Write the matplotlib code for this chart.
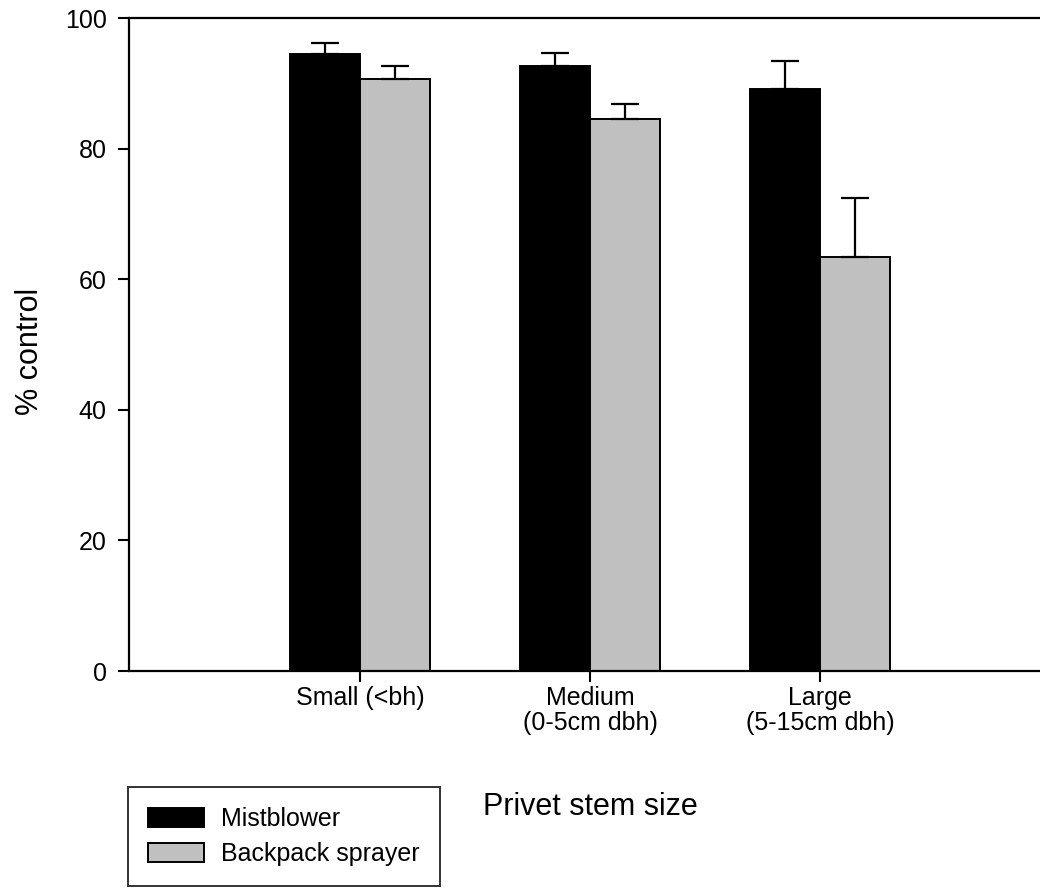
import numpy as np
import matplotlib.pyplot as plt

plt.rcParams['font.family'] = ['Liberation Sans', 'DejaVu Sans']

categories = ['Small (<bh)', 'Medium\n(0-5cm dbh)', 'Large\n(5-15cm dbh)']
mistblower = [94.5, 92.6, 89.1]
mistblower_se = [1.6, 2.1, 4.3]
backpack = [90.7, 84.5, 63.4]
backpack_se = [1.9, 2.3, 9.1]

fig = plt.figure(figsize=(10.4, 8.88), dpi=100)
ax = fig.add_axes([129 / 1040, 1 - 671 / 888, 1 - 129 / 1040, 653 / 888])

x = np.arange(len(categories))
w = 0.304
err_kw = dict(elinewidth=1.6, capsize=10, capthick=1.6, ecolor='black')
ax.bar(x - w / 2, mistblower, w, color='black', edgecolor='black', linewidth=1.4,
       yerr=[np.zeros(3), mistblower_se], error_kw=err_kw, label='Mistblower', zorder=2)
ax.bar(x + w / 2, backpack, w, color='#c0c0c0', edgecolor='black', linewidth=1.4,
       yerr=[np.zeros(3), backpack_se], error_kw=err_kw, label='Backpack sprayer', zorder=2)

ax.set_xlim(-1.005, 2.957)
ax.set_ylim(0, 100)
ax.set_yticks([0, 20, 40, 60, 80, 100])
ax.set_xticks(x)
ax.set_xticklabels(categories, fontsize=18, linespacing=1.05)
ax.tick_params(axis='y', labelsize=18, length=8, width=1.5, direction='out', pad=8)
ax.tick_params(axis='x', length=8, width=1.5, direction='out', pad=3)
ax.spines['right'].set_visible(False)
for s in ['left', 'top', 'bottom']:
    ax.spines[s].set_linewidth(1.6)

ax.set_ylabel('% control', fontsize=22)
ax.yaxis.set_label_coords(-0.092, 0.49)
ax.set_xlabel('Privet stem size', fontsize=22, va='top')
ax.xaxis.set_label_coords(0.506, -0.185)

leg = fig.legend(loc='upper left', bbox_to_anchor=(128 / 1040, 1 - 787 / 888),
                 fontsize=18, frameon=True, fancybox=False, edgecolor='black',
                 handlelength=2.25, handleheight=0.8, handletextpad=0.68,
                 labelspacing=0.45, borderpad=0.8, borderaxespad=0)
leg.get_frame().set_linewidth(1.4)

fig.savefig('out.png', dpi=100)
